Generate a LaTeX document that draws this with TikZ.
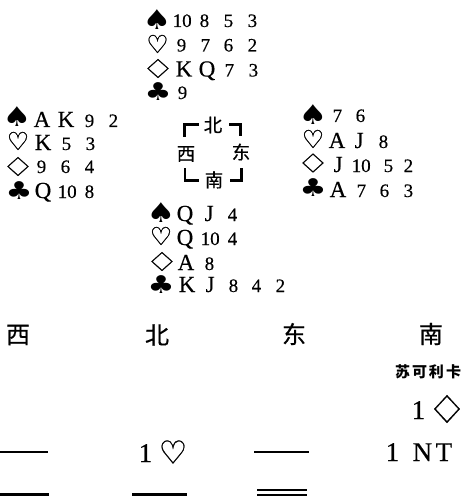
\documentclass[tikz,border=0pt]{standalone}
\usepackage{fontspec}
\newfontfamily\cjk[FakeBold=0.5]{Noto Sans CJK SC}
\newfontfamily\cjkb{Noto Sans CJK SC}
\newfontfamily\symb{DejaVu Sans}
\newfontfamily\symbb[FakeBold=0.7]{DejaVu Sans}
\newfontfamily\cardf[FakeBold=0.35]{Liberation Serif}
\newcommand{\T}[2]{\rlap{\hspace{#1pt}#2}}
\newcommand{\D}[2]{\T{#1}{\cardf\fontsize{19}{19}\selectfont #2}}
\newcommand{\LL}[2]{\T{#1}{\cardf\fontsize{23}{23}\selectfont #2}}
\newcommand{\BB}[2]{\T{#1}{\cardf\fontsize{27}{27}\selectfont #2}}
\tikzset{
  spadesym/.style={inner sep=0pt,yscale=.85,transform shape,font=\symb\fontsize{32}{32}\selectfont},
  clubsym/.style={inner sep=0pt,yscale=.82,transform shape,font=\symb\fontsize{30}{30}\selectfont},
  heartsym/.style={inner sep=0pt,font=\symbb\fontsize{25}{25}\selectfont},
  diamsym/.style={inner sep=0pt,xscale=1.45,transform shape,font=\symbb\fontsize{26}{26}\selectfont},
  bidheart/.style={inner sep=0pt,font=\symbb\fontsize{32}{32}\selectfont},
  biddiam/.style={inner sep=0pt,xscale=1.2,transform shape,font=\symbb\fontsize{38}{38}\selectfont},
  cardline/.style={inner sep=0pt,anchor=base west},
  dirlabel/.style={inner sep=0pt,font=\cjk\fontsize{18.5}{18.5}\selectfont},
  headlabel/.style={inner sep=0pt,font=\cjk\fontsize{24}{24}\selectfont},
  playerlabel/.style={inner sep=0pt,font=\cjkb\bfseries\fontsize{15}{15}\selectfont},
  cornerline/.style={line width=2.6pt,miter limit=10},
  passline/.style={line width=2.6pt},
  dblline/.style={line width=1.8pt}
}
\begin{document}
\begin{tikzpicture}[x=1pt,y=-1pt]
\useasboundingbox (0,0) rectangle (472,497);
% North
\node[spadesym] (ns) at (157,20) {♠};
\node[heartsym] (nh) at (157.5,44) {♡};
\node[diamsym] (nd) at (158,68.5) {♢};
\node[clubsym] (nc) at (158,92) {♣};
\node[cardline] (n1) at (172,27) {\D{0}{10}\D{27}{8}\D{51}{5}\D{75}{3}};
\node[cardline] (n2) at (176,51.5) {\D{0}{9}\D{24}{7}\D{47}{6}\D{71}{2}};
\node[cardline] (n3) at (175,76.5) {\LL{0}{K}\LL{23}{Q}\D{49}{7}\D{73}{3}};
\node[cardline] (n4) at (177,99) {\D{0}{9}};
% West
\node[spadesym] (ws) at (17,117) {♠};
\node[heartsym] (wh) at (18,141) {♡};
\node[diamsym] (wd) at (18,166.5) {♢};
\node[clubsym] (wc) at (19,191) {♣};
\node[cardline] (w1) at (33,127) {\LL{0}{A}\LL{24}{K}\D{51}{9}\D{75}{2}};
\node[cardline] (w2) at (34,150) {\LL{0}{K}\D{27}{5}\D{51}{3}};
\node[cardline] (w3) at (36,173) {\D{0}{9}\D{24}{6}\D{48}{4}};
\node[cardline] (w4) at (34,198) {\LL{0}{Q}\D{23}{10}\D{50}{8}};
% East
\node[spadesym] (es) at (313,115) {♠};
\node[heartsym] (eh) at (313,139) {♡};
\node[diamsym] (ed) at (313,163) {♢};
\node[clubsym] (ec) at (313,188) {♣};
\node[cardline] (e1) at (332,122) {\D{0}{7}\D{23}{6}};
\node[cardline] (e2) at (328,148) {\LL{0}{A}\LL{26}{J}\D{50}{8}};
\node[cardline] (e3) at (333,172) {\LL{0}{J}\D{18}{10}\D{50}{5}\D{70}{2}};
\node[cardline] (e4) at (329,197) {\LL{0}{A}\D{27}{7}\D{50}{6}\D{74}{3}};
% South
\node[spadesym] (ss) at (161,213) {♠};
\node[heartsym] (sh) at (161,236) {♡};
\node[diamsym] (sd) at (162,261.5) {♢};
\node[clubsym] (sc) at (161,285) {♣};
\node[cardline] (s1) at (176,221) {\LL{0}{Q}\LL{28}{J}\D{51}{4}};
\node[cardline] (s2) at (176,245) {\LL{0}{Q}\D{24}{10}\D{51}{4}};
\node[cardline] (s3) at (177,270) {\LL{0}{A}\D{27}{8}};
\node[cardline] (s4) at (178,292) {\LL{0}{K}\LL{27}{J}\D{50}{8}\D{73}{4}\D{97}{2}};
% Compass
\node[dirlabel] (cn) at (213,125) {北};
\node[dirlabel] (cw) at (186,154) {西};
\node[dirlabel] (ce) at (241,152) {东};
\node[dirlabel] (cs) at (214,180) {南};
\draw[cornerline] (184.5,137) -- (184.5,124.5) -- (199,124.5);
\draw[cornerline] (229,124.5) -- (240.5,124.5) -- (240.5,136);
\draw[cornerline] (185,168) -- (185,180.5) -- (199,180.5);
\draw[cornerline] (230,180.5) -- (241.5,180.5) -- (241.5,168);
% Auction
\node[headlabel] (hw) at (18,335) {西};
\node[headlabel] (hn) at (157,335) {北};
\node[headlabel] (he) at (294,334) {东};
\node[headlabel] (hs) at (431,334) {南};
\node[playerlabel] (pl) at (428,372) {苏\hspace{2pt}可\hspace{2pt}利\hspace{2pt}卡};
\node[cardline] (b1) at (411,419) {\BB{0}{1}};
\node[biddiam] (b1d) at (447,409) {♢};
\node[cardline] (b2) at (138,462) {\BB{0}{1}};
\node[bidheart] (b2h) at (173,452) {♡};
\node[cardline] (b3) at (385,461) {\BB{0}{1}\BB{27}{N}\BB{50}{T}};
\draw[passline] (0,452) -- (48,452);
\draw[passline] (254,452) -- (309,452);
\draw[passline] (0,494.5) -- (49,494.5);
\draw[passline] (132,494.5) -- (187,494.5);
\draw[dblline] (257,490) -- (307,490);
\draw[dblline] (257,495) -- (307,495);
\end{tikzpicture}
\end{document}
